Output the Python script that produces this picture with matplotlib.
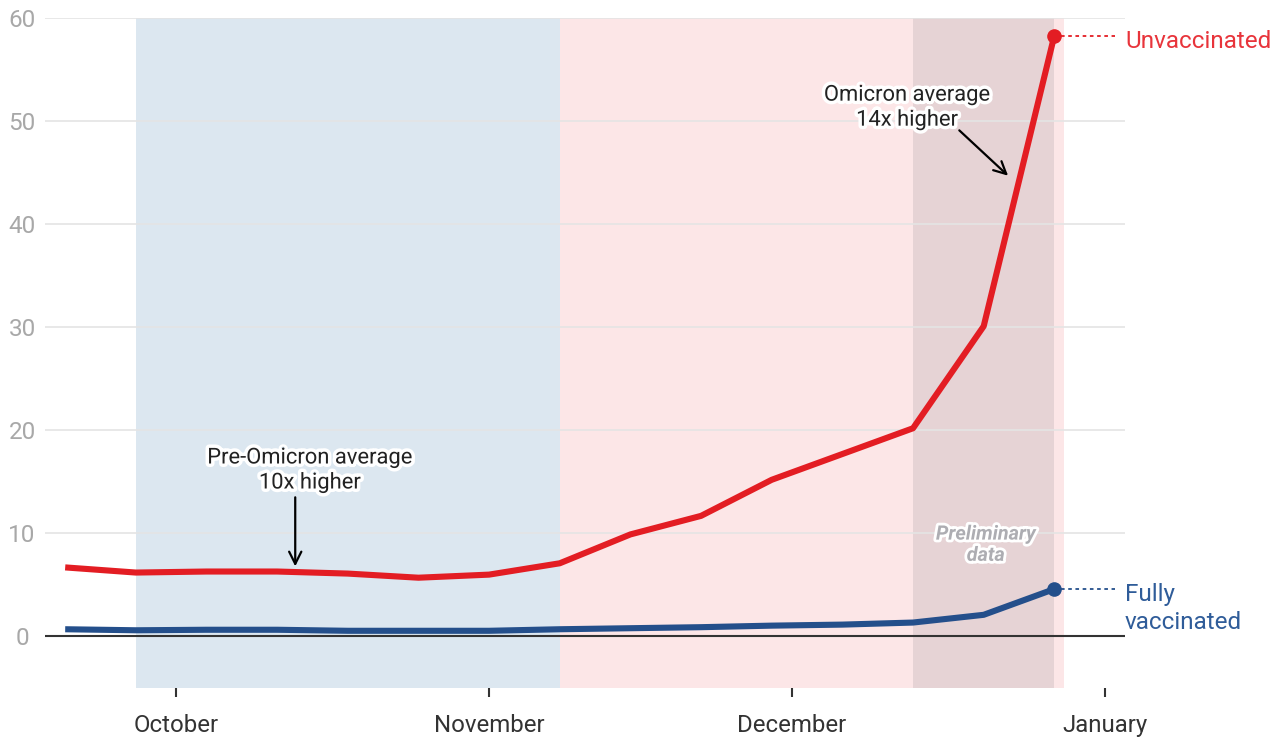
import matplotlib
matplotlib.use("Agg")
import matplotlib.pyplot as plt
import matplotlib.dates as mdates
import matplotlib.patheffects as pe
import numpy as np
import pandas as pd

plt.rcParams['font.family'] = ['Roboto', 'DejaVu Sans']

# ---- data ----
week_dates = ["2021-09-20", "2021-09-27", "2021-10-04", "2021-10-11", "2021-10-18",
              "2021-10-25", "2021-11-01", "2021-11-08", "2021-11-15", "2021-11-22",
              "2021-11-29", "2021-12-06", "2021-12-13", "2021-12-20", "2021-12-27"]
unvaccinated = [6.7, 6.2, 6.3, 6.3, 6.1, 5.7, 6.0, 7.1, 9.9, 11.7, 15.2, 17.7, 20.2, 30.1, 58.3]
fully_vaccinated = [0.7, 0.6, 0.65, 0.65, 0.55, 0.55, 0.55, 0.7, 0.8, 0.9, 1.05, 1.15, 1.35, 2.1, 4.6]

month_ticks = ["2021-10-01", "2021-11-01", "2021-12-01", "2022-01-01"]
month_labels = ["October", "November", "December", "January"]
y_ticks = [0, 10, 20, 30, 40, 50, 60]

pre_omicron_span = ("2021-09-27", "2021-11-08")
omicron_span = ("2021-11-08", "2021-12-28")
prelim_span = ("2021-12-13", "2021-12-27")

x = pd.to_datetime(week_dates)
RED = "#e31d23"
BLUE = "#244f8b"
TXT = "#333333"

fig = plt.figure(figsize=(12.75, 7.42), dpi=100)
ax = fig.add_axes([45/1275, 1 - 688/742, (1125-45)/1275, (688-18)/742])

ax.set_xlim(pd.Timestamp("2021-09-18"), pd.Timestamp("2022-01-03"))
ax.set_ylim(-5, 60)

# shaded periods
ax.axvspan(pd.Timestamp(pre_omicron_span[0]), pd.Timestamp(pre_omicron_span[1]),
           color="#dce7f0", lw=0, zorder=0)
ax.axvspan(pd.Timestamp(omicron_span[0]), pd.Timestamp(omicron_span[1]),
           color="#fce6e7", lw=0, zorder=0)
ax.axvspan(pd.Timestamp(prelim_span[0]), pd.Timestamp(prelim_span[1]),
           color="#e6d3d5", lw=0, zorder=0.5)

# grid
for yv in y_ticks[1:]:
    ax.axhline(yv, color="#e4e4e4", lw=1.2, zorder=1)
ax.axhline(0, color="#333333", lw=1.5, zorder=2)

for s in ax.spines.values():
    s.set_visible(False)

# lines
ax.plot(x, unvaccinated, color=RED, lw=4.4, zorder=4, solid_capstyle='butt', solid_joinstyle='round')
ax.plot(x, fully_vaccinated, color=BLUE, lw=4.4, zorder=4, solid_capstyle='butt', solid_joinstyle='round')
ax.plot(x[-1:], unvaccinated[-1:], 'o', color=RED, ms=9.5, zorder=5, clip_on=False)
ax.plot(x[-1:], fully_vaccinated[-1:], 'o', color=BLUE, ms=9.5, zorder=5, clip_on=False)

# dotted leaders + labels
lx0 = x[-1] + pd.Timedelta(days=0.7)
lx1 = pd.Timestamp("2022-01-02")
ax.plot([lx0, lx1], [unvaccinated[-1]] * 2, color=RED, lw=1.3, ls=(0, (2, 2)), zorder=3, clip_on=False)
ax.plot([lx0, lx1], [fully_vaccinated[-1]] * 2, color=BLUE, lw=1.3, ls=(0, (2, 2)), zorder=3, clip_on=False)
ax.text(pd.Timestamp("2022-01-03"), unvaccinated[-1] - 0.6, "Unvaccinated", color="#e8343b",
        fontsize=17.5, ha="left", va="center", clip_on=False)
ax.text(pd.Timestamp("2022-01-03"), 2.7, "Fully\nvaccinated", color="#2f5c99",
        fontsize=17.5, ha="left", va="center", linespacing=1.25, clip_on=False)

# annotations
stroke = [pe.withStroke(linewidth=5, foreground="white")]
t1 = ax.text(pd.Timestamp("2021-10-14 06:00"), 16.1, "Pre-Omicron average\n10x higher",
             ha="center", va="center", fontsize=15.8, color="#222222", linespacing=1.25, zorder=6)
t1.set_path_effects(stroke)
ax.annotate("", xy=(pd.Timestamp("2021-10-12 19:00"), 6.8),
            xytext=(pd.Timestamp("2021-10-12 19:00"), 13.5),
            arrowprops=dict(arrowstyle="->", color="black", lw=1.6, mutation_scale=22,
                            shrinkA=0, shrinkB=0), zorder=6)

t2 = ax.text(pd.Timestamp("2021-12-12 10:00"), 51.3, "Omicron average\n14x higher",
             ha="center", va="center", fontsize=15.8, color="#222222", linespacing=1.25, zorder=6)
t2.set_path_effects(stroke)
ax.annotate("", xy=(pd.Timestamp("2021-12-22 10:00"), 44.7),
            xytext=(pd.Timestamp("2021-12-17 14:00"), 49.1),
            arrowprops=dict(arrowstyle="->", color="black", lw=1.6, mutation_scale=22,
                            shrinkA=0, shrinkB=0), zorder=6)

t3 = ax.text(pd.Timestamp("2021-12-20 05:00"), 8.9, "Preliminary\ndata",
             ha="center", va="center", fontsize=14.3, color="#adadb2", style="italic",
             fontweight="bold", linespacing=1.15, zorder=6)
t3.set_path_effects([pe.withStroke(linewidth=4, foreground="white")])

# axes ticks
ax.set_yticks(y_ticks)
ax.set_yticklabels([str(v) for v in y_ticks])
ax.tick_params(axis="y", length=0, pad=16.5, labelsize=17.5, labelcolor="#a8a8a8")
for lab in ax.get_yticklabels():
    lab.set_horizontalalignment("center")

ax.set_xticks(pd.to_datetime(month_ticks))
ax.set_xticklabels(month_labels)
ax.tick_params(axis="x", length=6.5, width=1.5, color="#333333", pad=12,
               labelsize=17.3, labelcolor=TXT)

fig.savefig("out.png", dpi=100)
